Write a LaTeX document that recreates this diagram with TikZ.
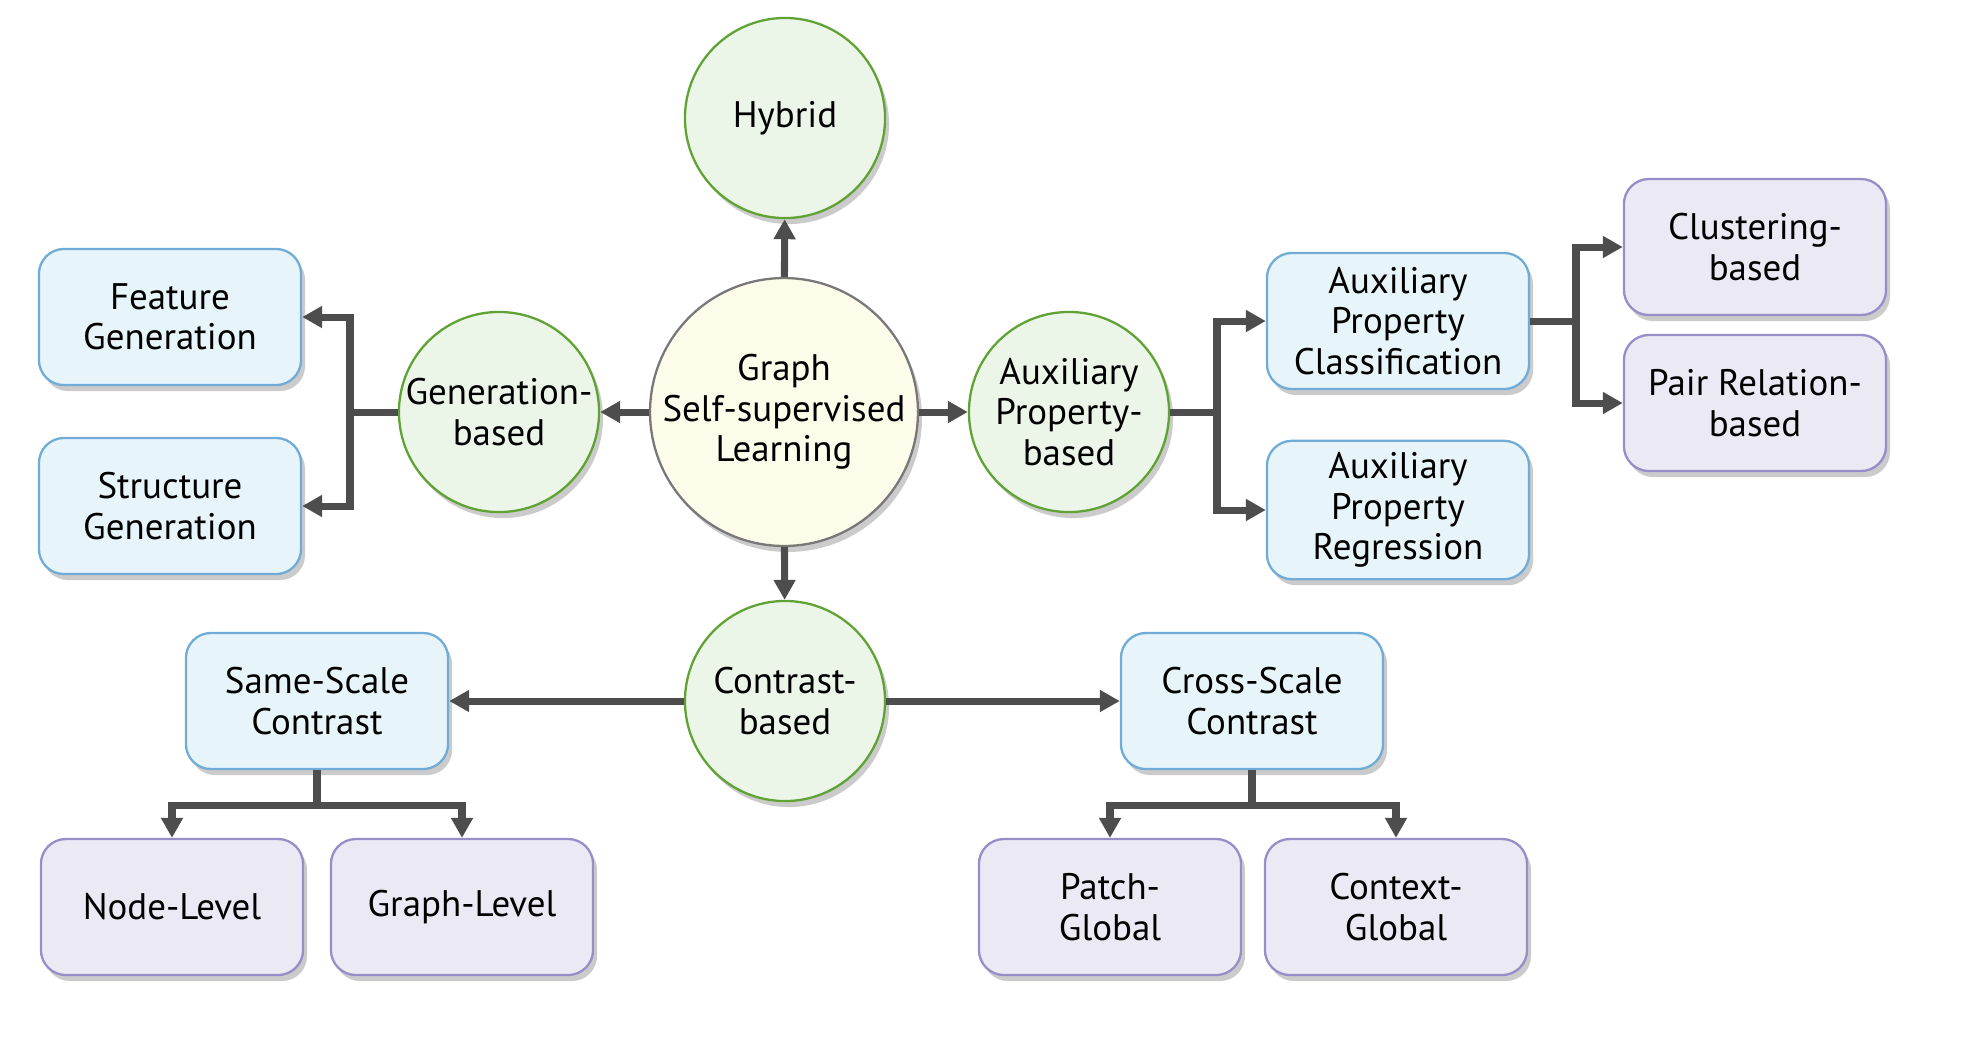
\documentclass[tikz,border=0pt]{standalone}
\usepackage{fontspec}
\setmainfont{PT Sans}
\usetikzlibrary{shapes, shadows, positioning, arrows.meta, calc}
\definecolor{rootfill}{RGB}{253,251,234}
\definecolor{rootborder}{RGB}{120,120,120}
\definecolor{methodfill}{RGB}{235,245,232}
\definecolor{methodborder}{RGB}{96,163,52}
\definecolor{catfill}{RGB}{231,244,250}
\definecolor{catborder}{RGB}{112,172,214}
\definecolor{leaffill}{RGB}{235,233,243}
\definecolor{leafborder}{RGB}{152,141,200}
\definecolor{arrowgray}{RGB}{77,77,77}
\tikzstyle{shade}=[drop shadow={shadow xshift=0.04cm, shadow yshift=-0.06cm, fill=black!45, opacity=0.45}]
\tikzstyle{root}=[circle, draw=rootborder, fill=rootfill, line width=0.65pt, minimum size=2.56cm, align=center, inner sep=0pt, shade, font=\fontsize{10.5}{11.5}\selectfont]
\tikzstyle{method}=[circle, draw=methodborder, fill=methodfill, line width=0.65pt, minimum size=2cm, align=center, inner sep=0pt, shade, font=\fontsize{10.5}{11.5}\selectfont]
\tikzstyle{category}=[rectangle, rounded corners=0.25cm, draw=catborder, fill=catfill, line width=0.65pt, minimum width=2.62cm, minimum height=1.36cm, align=center, shade, font=\fontsize{10.5}{11.5}\selectfont]
\tikzstyle{leaf}=[rectangle, rounded corners=0.25cm, draw=leafborder, fill=leaffill, line width=0.65pt, minimum width=2.62cm, minimum height=1.36cm, align=center, shade, font=\fontsize{10.5}{11.5}\selectfont]
\tikzstyle{line}=[draw=arrowgray, line width=2pt]
\tikzstyle{arrow}=[line, -{Triangle[width=0.21cm, length=0.2cm]}]

\begin{document}
\begin{tikzpicture}[x=0.01cm, y=-0.01cm]
      \useasboundingbox (0,0) rectangle (1972,1056);

      \node[root] (ssl) at (784,412) {Graph\\Self-supervised\\Learning};
      \node[method] (hybrid) at (785,118) {Hybrid};
      \node[method] (genBased) at (499,412) {Generation-\\based};
      \node[method] (auxBased) at (1069,412) {Auxiliary\\Property-\\based};
      \node[method] (conBased) at (785,701) {Contrast-\\based};

      \node[category] (featGen) at (170,317) {Feature\\Generation};
      \node[category] (strucGen) at (170,506) {Structure\\Generation};
      \node[category] (auxCls) at (1398,321) {Auxiliary\\Property\\Classification};
      \node[category] (auxReg) at (1398,510) {Auxiliary\\Property\\Regression};
      \node[category] (sameScale) at (317,701) {Same-Scale\\Contrast};
      \node[category] (crossScale) at (1252,701) {Cross-Scale\\Contrast};

      \node[leaf] (cluster) at (1755,247) {Clustering-\\based};
      \node[leaf] (pairRel) at (1755,403) {Pair Relation-\\based};
      \node[leaf] (nodeLevel) at (172,907) {Node-Level};
      \node[leaf] (graphLevel) at (462,907) {Graph-Level};
      \node[leaf] (patchGlobal) at (1110,907) {Patch-\\Global};
      \node[leaf] (contextGlobal) at (1396,907) {Context-\\Global};

      \coordinate (genSplit) at (350,412);
      \coordinate (auxSplit) at (1217,412);
      \coordinate (clsSplit) at (1576,321);
      \coordinate (sameSplit) at (317,805);
      \coordinate (crossSplit) at (1252,805);

      \foreach \m in {hybrid, genBased, auxBased, conBased}{
        \draw[arrow] (ssl) -- (\m);
      }
      \draw[arrow] (conBased) -- (sameScale);
      \draw[arrow] (conBased) -- (crossScale);

      \draw[line] (genBased) -- (genSplit);
      \draw[line] (auxBased) -- (auxSplit);
      \draw[line] (auxCls) -- (clsSplit);
      \draw[line] (sameScale) -- (sameSplit);
      \draw[line] (crossScale) -- (crossSplit);

      \foreach \n in {featGen, strucGen}{
        \draw[arrow] (genSplit) |- (\n);
      }
      \foreach \n in {auxCls, auxReg}{
        \draw[arrow] (auxSplit) |- (\n);
      }
      \foreach \n in {cluster, pairRel}{
        \draw[arrow] (clsSplit) |- (\n);
      }
      \foreach \n in {nodeLevel, graphLevel}{
        \draw[arrow] (sameSplit) -| (\n);
      }
      \foreach \n in {patchGlobal, contextGlobal}{
        \draw[arrow] (crossSplit) -| (\n);
      }
    \end{tikzpicture}
\end{document}
